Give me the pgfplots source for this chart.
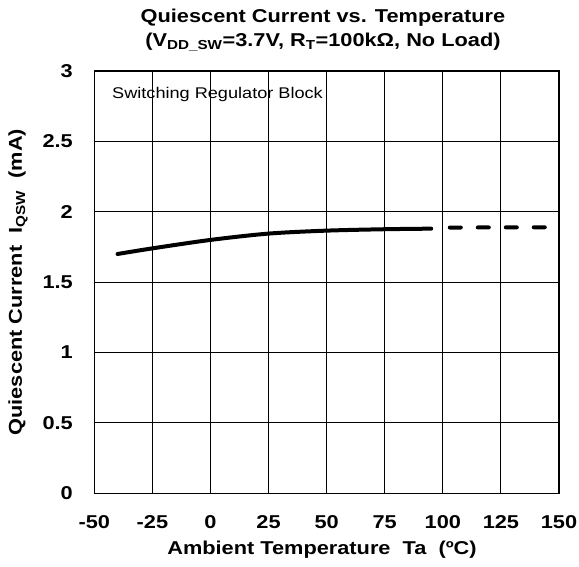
\documentclass[border=0pt]{standalone}
\usepackage{fontspec}
\setmainfont{Liberation Sans}[FakeStretch=1.17]
\usepackage{pgfplots}
\pgfplotsset{compat=1.18}

% curve
\pgfplotstableread{
T     I
-40   1.700
-25   1.740
0     1.800
25    1.845
50    1.866
75    1.876
95    1.880
}\measured
\pgfplotstableread{
T     I
103   1.888
144   1.890
}\extrapolated

\newcommand{\lblfont}{\fontsize{18.6}{22}\selectfont\bfseries}

\begin{document}
\begin{tikzpicture}
\path[use as bounding box] (-94.3pt,-72.7pt) rectangle (484.7pt,493.3pt);
\begin{axis}[
    at={(0,0)}, anchor=south west,
    scale only axis,
    width=464.7pt, height=422.3pt,
    xmin=-50, xmax=150, ymin=0, ymax=3,
    xtick={-50,-25,...,150},
    ytick={0,0.5,...,3},
    major tick length=0pt,
    grid=major,
    major grid style={black, line width=0.9pt},
    axis line style={black, line width=1.4pt},
    clip=false,
    /pgf/number format/assume math mode=true,
    xticklabel style={font=\lblfont, anchor=base, inner sep=0pt, yshift=-35.4pt},
    yticklabel style={font=\lblfont, anchor=east, inner sep=0pt, xshift=-21.3pt},
]
\addplot[black, line width=4pt, smooth, line cap=round] table[x=T, y=I] {\measured};
\addplot[black, line width=4pt, line cap=round, dash pattern=on 11pt off 17pt] table[x=T, y=I] {\extrapolated};

\node[anchor=base west, inner sep=0pt, font=\fontsize{15.5}{18}\selectfont]
    at ([xshift=17.7pt, yshift=-27.5pt]rel axis cs:0,1) {Switching Regulator Block};

\node[anchor=base, inner sep=0pt, font=\lblfont] at ([yshift=48.3pt]rel axis cs:0.492,1)
    {Quiescent Current vs. Temperature};
\node[anchor=base, inner sep=0pt, font=\lblfont] at ([yshift=24.3pt]rel axis cs:0.492,1)
    {(V\textsubscript{DD\_SW}=3.7V, R\textsubscript{T}=100kΩ, No Load)};

\node[anchor=base, inner sep=0pt, font=\lblfont] at ([yshift=-61.4pt]rel axis cs:0.49,0)
    {Ambient Temperature\ \ Ta\ \ (ºC)};
\node[rotate=90, anchor=center, inner sep=0pt, font=\lblfont] at ([xshift=-76.3pt]rel axis cs:0,0.5)
    {Quiescent Current\ \ I\textsubscript{QSW}\ \ (mA)};
\end{axis}
\end{tikzpicture}
\end{document}
